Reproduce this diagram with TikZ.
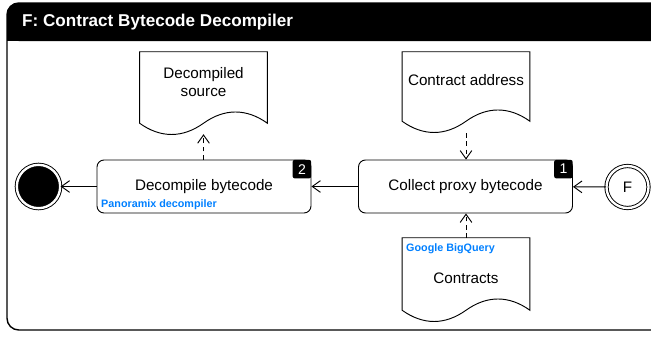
\documentclass[tikz,border=0pt]{standalone}
\usepackage{fontspec}
\setmainfont{Liberation Sans}
\usepackage{tikz}
\usetikzlibrary{positioning}
\usetikzlibrary{arrows.meta}
\usetikzlibrary{calc}
\definecolor{tagblue}{HTML}{007FFF}

% document shape: straight top and sides, wavy bottom
\newcommand{\docwave}[2]{%
  \draw[docline] (#1.north west) -- (#1.north east) -- ($(#1.south east)+(0,-#2)$)
    .. controls +(-21,-15) and +(21,-15) .. ($(#1.south)+(0,-#2)$)
    .. controls +(-21,15) and +(21,15) .. ($(#1.south west)+(0,-#2)$) -- cycle;}

\begin{document}
\begin{tikzpicture}[x=0.03cm,y=-0.03cm,
  >={Straight Barb[length=7pt,width=10pt]},
  actbox/.style={draw,rounded corners=6pt,line width=0.8pt,minimum width=6.42cm,minimum height=1.59cm,font=\fontsize{13}{16}\selectfont},
  badge/.style={fill=black,text=white,rounded corners=2pt,minimum size=0.56cm,inner sep=0pt,font=\fontsize{12}{14}\selectfont,anchor=north east},
  docbox/.style={minimum width=3.82cm,inner sep=0pt},
  doctext/.style={align=center,font=\fontsize{13}{16}\selectfont},
  tooltag/.style={text=tagblue,font=\bfseries\fontsize{9.2}{11}\selectfont,anchor=west,inner sep=0pt},
  flowline/.style={->,line width=0.8pt},
  dataline/.style={->,line width=0.8pt,dash pattern=on 4pt off 3pt},
  docline/.style={line width=0.8pt}]
\useasboundingbox (0,0) rectangle (651,336);

% frame and title bar
\draw[line width=1.2pt,rounded corners=10pt] (7,3) rectangle (670,330);
\fill[rounded corners=10pt] (7,3) rectangle (670,41);
\fill (7,25) rectangle (670,41);
\node (title) [anchor=west,inner sep=0pt,text=white,font=\bfseries\fontsize{14.6}{17}\selectfont] at (22,22) {F: Contract Bytecode Decompiler};

% activities
\node (collect) [actbox] at (465.5,186.5) {Collect proxy bytecode};
\node (badgeone) [badge] at (collect.north east) {1};
\node (decomp) [actbox] at (204,186.5) {Decompile bytecode};
\node (badgetwo) [badge] at (decomp.north east) {2};
\node (pnxlabel) [tooltag] at (101,205) {Panoramix decompiler};

% start and end
\node (start) [circle,draw,double,double distance=2pt,line width=0.8pt,minimum size=1.26cm,fill=white,font=\fontsize{13}{16}\selectfont] at (627.5,187) {F};
\node (finish) [circle,draw,fill=black,double=white,double distance=2pt,line width=0.8pt,minimum size=1.3cm] at (38.5,186.5) {};

% documents
\node (srcdoc) [docbox,minimum height=2.46cm] at (203.5,93) {};
\docwave{srcdoc}{11}
\node (srctext) [doctext] at (203.5,82) {Decompiled\\source};

\node (addrdoc) [docbox,minimum height=2.43cm] at (466,92.5) {};
\docwave{addrdoc}{12}
\node (addrtext) [doctext] at (466,80) {Contract address};

\node (contractsdoc) [docbox,minimum height=2.52cm] at (466,280) {};
\docwave{contractsdoc}{12}
\node (bqlabel) [tooltag] at (406,249) {Google BigQuery};
\node (contractstext) [doctext] at (466,278) {Contracts};

% connectors
\draw[flowline] (start) -- (collect);
\draw[flowline] (collect) -- (decomp);
\draw[flowline] (decomp) -- (finish);
\draw[dataline] (decomp.north -| srcdoc.south) -- (srcdoc.south);
\draw[dataline] (addrdoc.south) -- (collect.north -| addrdoc.south);
\draw[dataline] (contractsdoc.north) -- (collect.south -| contractsdoc.north);
\end{tikzpicture}
\end{document}
